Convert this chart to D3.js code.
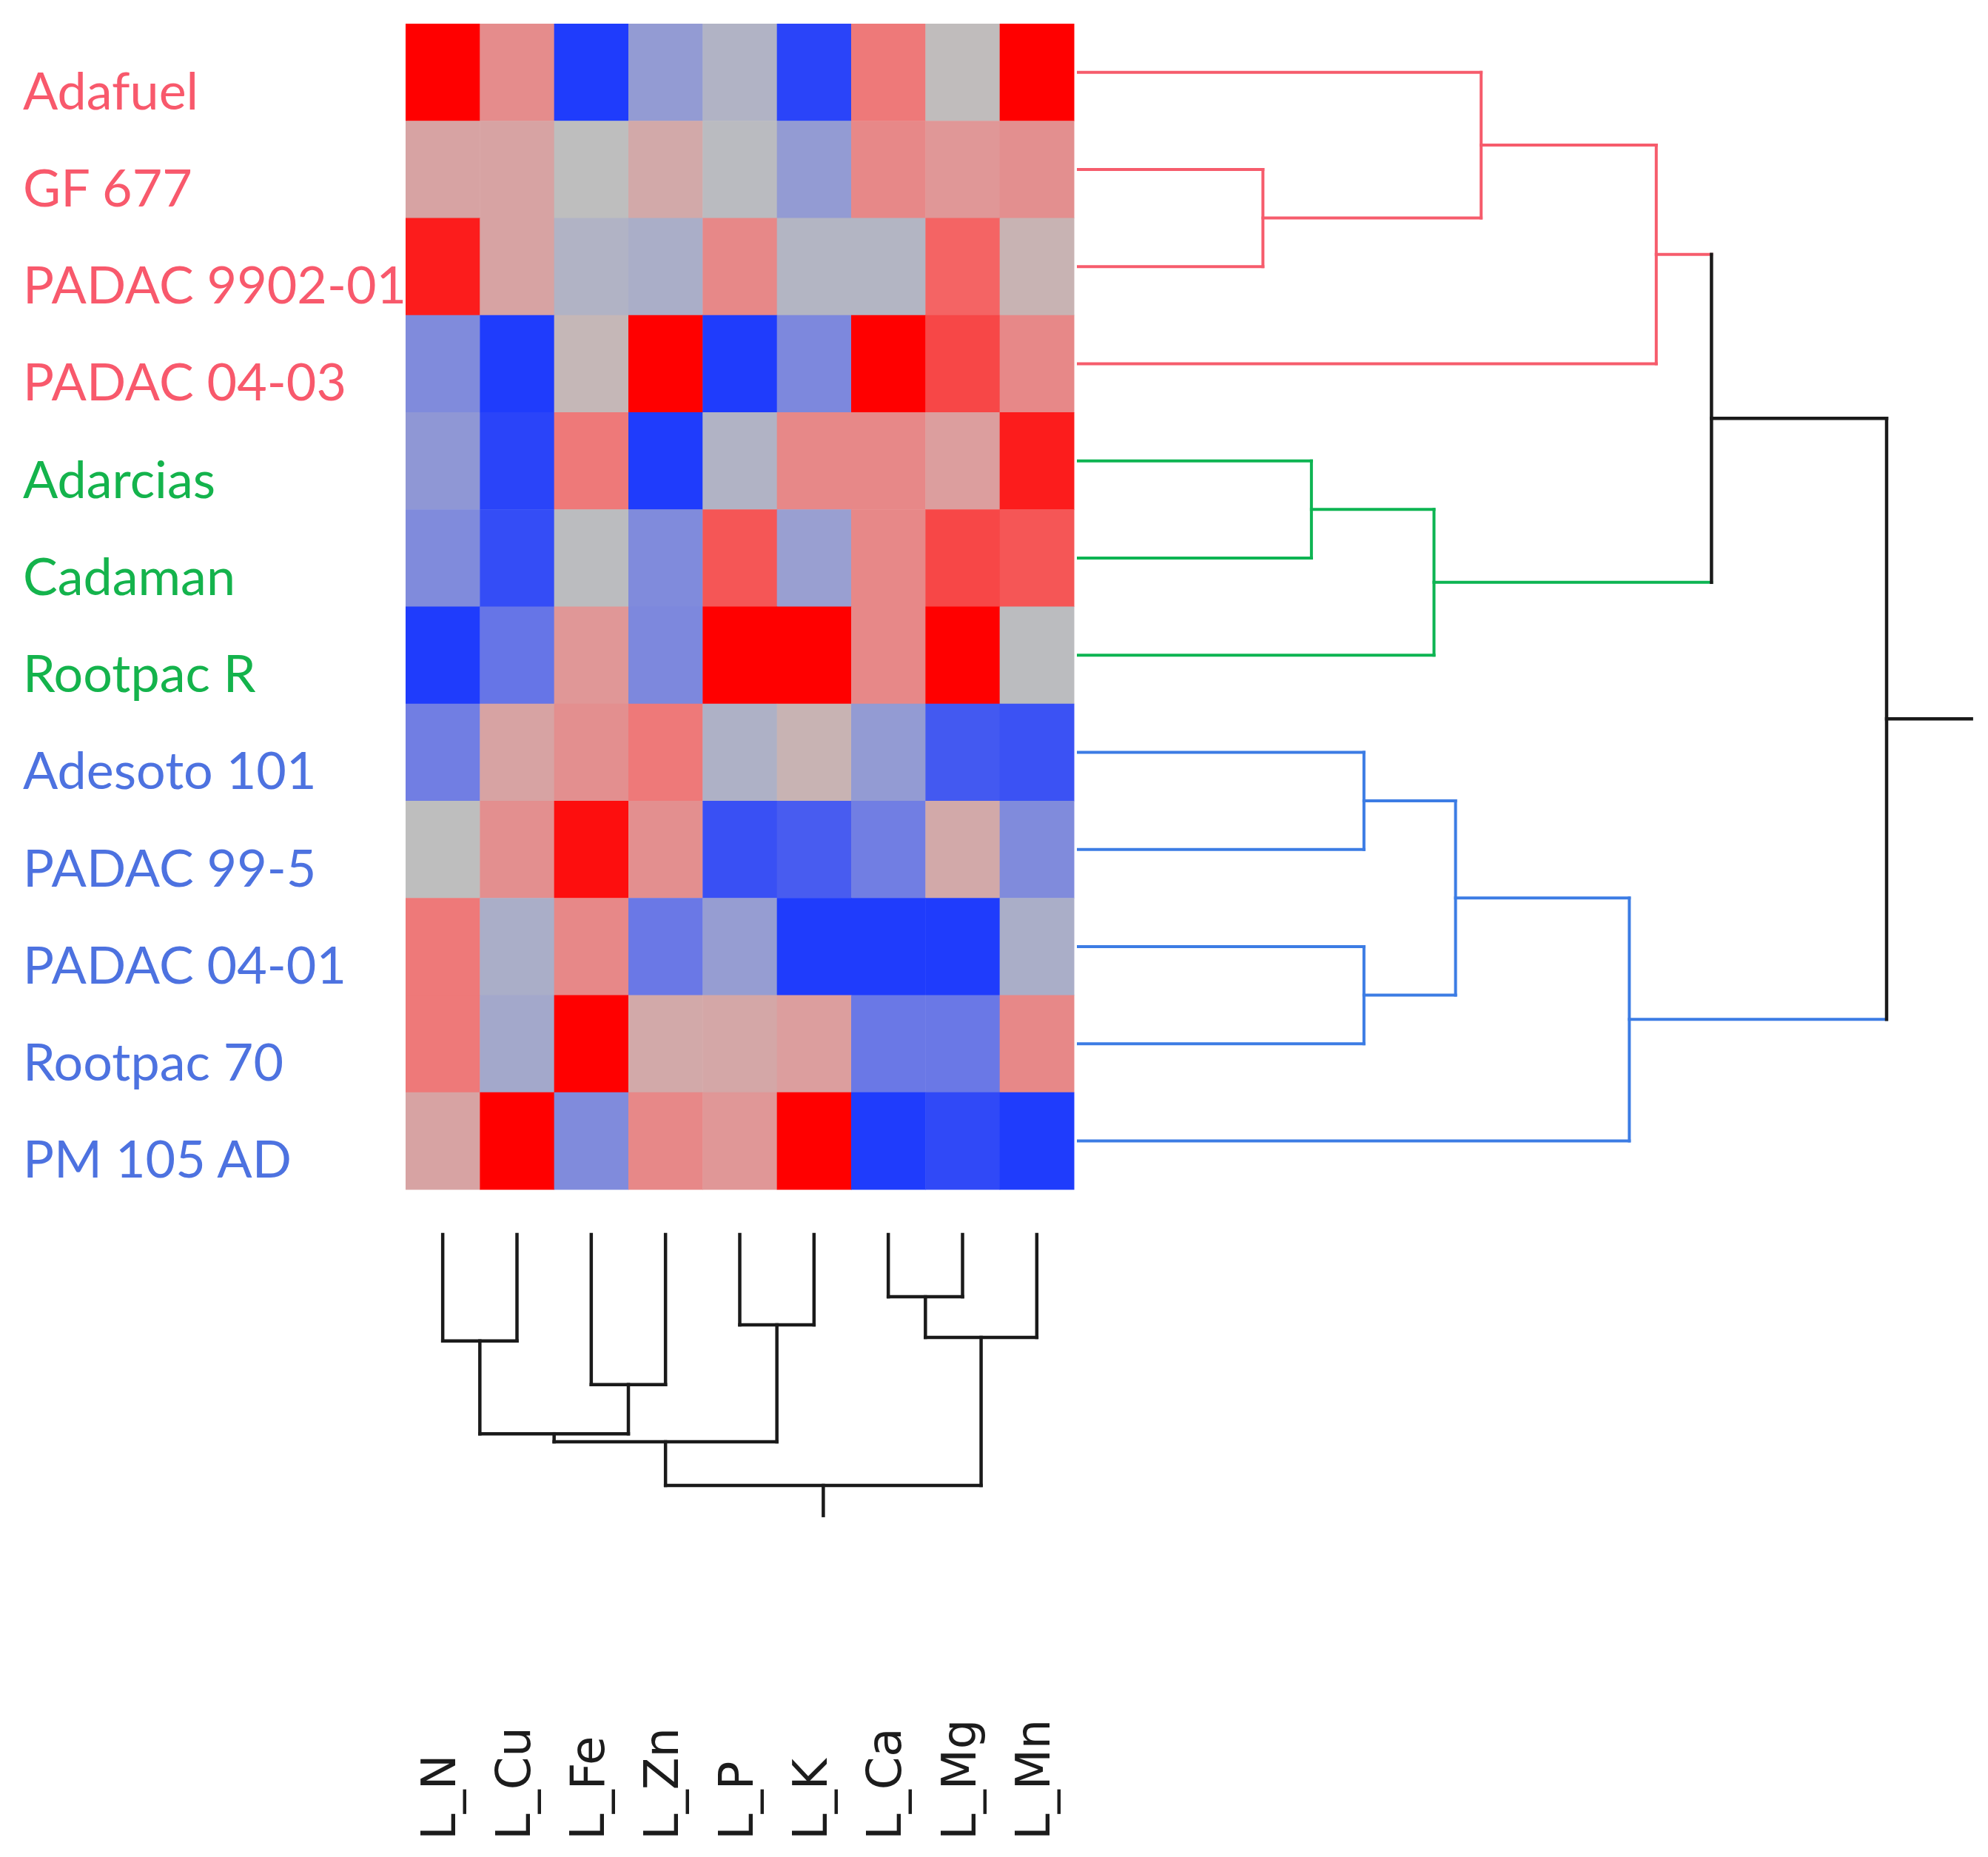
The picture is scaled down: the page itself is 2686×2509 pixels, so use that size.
<!DOCTYPE html>
<html>
<head>
<meta charset="utf-8">
<script src="https://cdn.jsdelivr.net/npm/d3@7"></script>
<style>
  body { margin: 0; background: #fff; }
</style>
</head>
<body>
<div id="chart"></div>
<script>
// rows (top to bottom) and columns (left to right) in dendrogram order
const rows = ['Adafuel', 'GF 677', 'PADAC 9902-01', 'PADAC 04-03', 'Adarcias', 'Cadaman',
  'Rootpac R', 'Adesoto 101', 'PADAC 99-5', 'PADAC 04-01', 'Rootpac 70', 'PM 105 AD'];
const cols = ['L_N', 'L_Cu', 'L_Fe', 'L_Zn', 'L_P', 'L_K', 'L_Ca', 'L_Mg', 'L_Mn'];

// scaled values, one array per row, -1 = blue, 0 = grey, 1 = red
const values = [
  [1.0, 0.42, -0.95, -0.32, -0.1, -0.9, 0.55, 0.02, 1.0],
  [0.25, 0.25, 0.0, 0.2, -0.03, -0.32, 0.45, 0.35, 0.4],
  [0.9, 0.25, -0.1, -0.15, 0.45, -0.08, -0.08, 0.65, 0.1],
  [-0.45, -0.95, 0.07, 1.0, -0.95, -0.47, 1.0, 0.75, 0.45],
  [-0.35, -0.9, 0.55, -0.95, -0.1, 0.45, 0.45, 0.3, 0.9],
  [-0.45, -0.85, -0.02, -0.45, 0.7, -0.28, 0.45, 0.75, 0.7],
  [-0.95, -0.62, 0.35, -0.47, 1.0, 1.0, 0.45, 1.0, -0.02],
  [-0.55, 0.25, 0.4, 0.55, -0.12, 0.1, -0.32, -0.78, -0.82],
  [0.0, 0.4, 0.95, 0.4, -0.83, -0.76, -0.55, 0.2, -0.45],
  [0.55, -0.15, 0.45, -0.6, -0.3, -0.95, -0.95, -0.95, -0.15],
  [0.55, -0.2, 1.0, 0.2, 0.22, 0.3, -0.6, -0.6, 0.45],
  [0.25, 1.0, -0.45, 0.45, 0.35, 1.0, -0.95, -0.87, -0.95]
];

// row clusters
const rowGroups = ['red', 'red', 'red', 'red', 'green', 'green', 'green',
  'blue', 'blue', 'blue', 'blue', 'blue'];

// linkage: [left, right, height], mN refers to merge N
const rowMerges = [
  ['GF 677', 'PADAC 9902-01', 1.37],
  ['Adarcias', 'Cadaman', 1.73],
  ['Adesoto 101', 'PADAC 99-5', 2.12],
  ['PADAC 04-01', 'Rootpac 70', 2.12],
  ['m1', 'Rootpac R', 2.64],
  ['m2', 'm3', 2.8],
  ['Adafuel', 'm0', 2.99],
  ['m5', 'PM 105 AD', 4.09],
  ['m6', 'PADAC 04-03', 4.29],
  ['m8', 'm4', 4.7],
  ['m9', 'm7', 6.0]
];
const colMerges = [
  ['L_Ca', 'L_Mg', 1.24],
  ['L_P', 'L_K', 1.8],
  ['m0', 'L_Mn', 2.05],
  ['L_N', 'L_Cu', 2.12],
  ['L_Fe', 'L_Zn', 2.99],
  ['m3', 'm4', 3.97],
  ['m5', 'm1', 4.13],
  ['m6', 'm2', 5.0]
];
const rowStem = 0.63;
const colStem = 0.6;

const groupColor = { red: '#f65c6c', green: '#0db452', blue: '#3c7ce4' };
const labelColor = { red: '#f8596c', green: '#14b34c', blue: '#4d72e0' };

const width = 2686;
const height = 2509;

const svg = d3.select('#chart')
  .append('svg')
  .attr('width', width)
  .attr('height', height);

const x = d3.scaleBand().domain(cols).range([548, 1451]);
const y = d3.scaleBand().domain(rows).range([32, 1607]);

const color = d3.scaleLinear()
  .domain([-1, -0.6, -0.3, 0, 0.3, 0.6, 1])
  .range(['#1433ff', '#6a78e6', '#969dd2', '#bebebe', '#dc9e9e', '#f27272', '#ff0000'])
  .clamp(true);

// heatmap cells
const cells = [];
values.forEach((row, i) => row.forEach((v, j) => cells.push({ r: rows[i], c: cols[j], v })));

svg.append('g')
  .selectAll('rect')
  .data(cells)
  .enter()
  .append('rect')
  .attr('x', (d) => x(d.c))
  .attr('y', (d) => y(d.r))
  .attr('width', x.bandwidth() + 0.5)
  .attr('height', y.bandwidth() + 0.5)
  .attr('fill', (d) => color(d.v));

// row labels
svg.append('g')
  .selectAll('text')
  .data(rows)
  .enter()
  .append('text')
  .attr('x', 31)
  .attr('y', (d) => y(d) + y.bandwidth() / 2 + 50)
  .style('font-family', 'Lato, "Open Sans", sans-serif')
  .attr('font-size', '70px')
  .attr('fill', (d, i) => labelColor[rowGroups[i]])
  .text((d) => d);

// column labels
svg.append('g')
  .selectAll('text')
  .data(cols)
  .enter()
  .append('text')
  .attr('transform', (d) => `translate(${x(d) + x.bandwidth() / 2 + 17},2486) rotate(-90)`)
  .style('font-family', '"DejaVu Sans", Verdana, sans-serif')
  .attr('font-size', '64px')
  .attr('fill', '#1c1c1c')
  .text((d) => d);

// build tree nodes from a merge list
const buildNodes = (leaves, merges, pos) => {
  const nodes = {};
  leaves.forEach((name) => (nodes[name] = { name, h: 0, p: pos(name), leaves: [name] }));
  merges.forEach(([a, b, h], i) => {
    const l = nodes[a];
    const r = nodes[b];
    const n = { name: 'm' + i, h, p: (l.p + r.p) / 2, children: [l, r], leaves: l.leaves.concat(r.leaves) };
    l.parent = n;
    r.parent = n;
    nodes[n.name] = n;
  });
  return nodes;
};

// row dendrogram
const rowH = d3.scaleLinear().domain([0, 6]).range([1457, 2549]);
const rowNodes = buildNodes(rows, rowMerges, (name) => y(name) + y.bandwidth() / 2);
const nodeColor = (n) => {
  const groups = new Set(n.leaves.map((l) => rowGroups[rows.indexOf(l)]));
  return groups.size === 1 ? groupColor[[...groups][0]] : '#1a1a1a';
};

const rowSegs = [];
Object.values(rowNodes).forEach((n) => {
  const c = nodeColor(n);
  const xEnd = n.parent ? n.parent.h : n.h + rowStem;
  rowSegs.push({ x1: rowH(n.h), x2: rowH(xEnd), y1: n.p, y2: n.p, c });
  if (n.children) {
    rowSegs.push({ x1: rowH(n.h), x2: rowH(n.h), y1: n.children[0].p, y2: n.children[1].p, c });
  }
});

svg.append('g')
  .selectAll('line')
  .data(rowSegs)
  .enter()
  .append('line')
  .attr('x1', (d) => d.x1)
  .attr('x2', (d) => d.x2)
  .attr('y1', (d) => d.y1)
  .attr('y2', (d) => d.y2)
  .attr('stroke', (d) => d.c)
  .attr('stroke-width', (d) => (d.c === '#1a1a1a' ? 4.5 : 4))
  .attr('stroke-linecap', 'square');

// column dendrogram
const colH = d3.scaleLinear().domain([0, 5]).range([1668, 2007]);
const colNodes = buildNodes(cols, colMerges, (name) => x(name) + x.bandwidth() / 2);

const colSegs = [];
Object.values(colNodes).forEach((n) => {
  const yEnd = n.parent ? n.parent.h : n.h + colStem;
  colSegs.push({ x1: n.p, x2: n.p, y1: colH(n.h), y2: colH(yEnd) });
  if (n.children) {
    colSegs.push({ x1: n.children[0].p, x2: n.children[1].p, y1: colH(n.h), y2: colH(n.h) });
  }
});

svg.append('g')
  .selectAll('line')
  .data(colSegs)
  .enter()
  .append('line')
  .attr('x1', (d) => d.x1)
  .attr('x2', (d) => d.x2)
  .attr('y1', (d) => d.y1)
  .attr('y2', (d) => d.y2)
  .attr('stroke', '#1a1a1a')
  .attr('stroke-width', 4.5)
  .attr('stroke-linecap', 'square');
</script>
</body>
</html>
